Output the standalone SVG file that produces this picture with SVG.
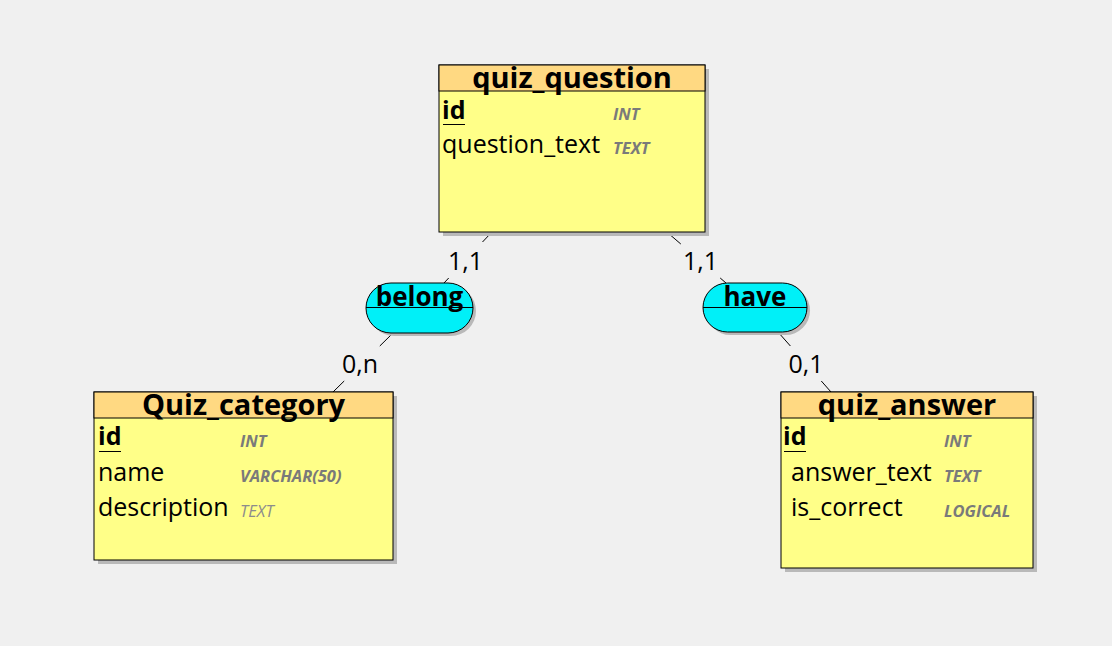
<svg xmlns="http://www.w3.org/2000/svg" width="1112" height="646" viewBox="0 0 1112 646">
<style>
.shadow{fill:#b9b9b9}
.body{fill:#ffff88;stroke:#000;stroke-width:1}
.head{fill:#ffd982;stroke:#000;stroke-width:1}
.title{font-family:"Open Sans","Noto Sans",sans-serif;font-weight:bold;font-size:29px;fill:#000;text-anchor:middle}
.attr{font-family:"Open Sans","Noto Sans",sans-serif;font-size:25px;fill:#000}
.pk{font-weight:bold}
.type{font-family:"Open Sans","Noto Sans",sans-serif;font-size:16.5px;font-style:italic;font-weight:bold;fill:#7a7a7a}
.typel{font-weight:normal;fill:#8c8c8c}
.rel{fill:#00f0f8;stroke:#000;stroke-width:1}
.rtext{font-family:"Open Sans","Noto Sans",sans-serif;font-weight:bold;font-size:26px;fill:#000;text-anchor:middle}
.card{font-family:"Open Sans","Noto Sans",sans-serif;font-size:25px;fill:#000;text-anchor:middle}
.conn{stroke:#000;stroke-width:1;fill:none}
.ul{stroke:#000;stroke-width:1}
</style>
<rect width="1112" height="646" fill="#f0f0f0"/>
<g id="connectors">
<path class="conn" d="M491,233 L482.5,242 M448.7,278 L444,283"/>
<path class="conn" d="M393,333 L379.8,346 M344.2,381 L333,392"/>
<path class="conn" d="M668,233 L680.8,244 M720.2,278 L726,283"/>
<path class="conn" d="M778,332 L790.4,346 M821.3,381 L831,392"/>
<text class="card" x="465.5" y="270">1,1</text>
<text class="card" x="360" y="373">0,n</text>
<text class="card" x="700.5" y="270">1,1</text>
<text class="card" x="806" y="373">0,1</text>
</g>
<g id="quiz_question">
<rect class="shadow" x="443" y="69" width="266" height="167"/>
<rect class="body" x="439" y="65" width="266" height="167"/>
<rect class="head" x="439" y="65" width="266" height="26"/>
<text class="title" x="572" y="88">quiz_question</text>
<text class="attr pk" x="442" y="119">id</text>
<line class="ul" x1="443" y1="124.5" x2="465" y2="124.5"/>
<text class="type" x="613" y="120">INT</text>
<text class="attr" x="442" y="153">question_text</text>
<text class="type" x="613" y="154">TEXT</text>
</g>
<g id="belong">
<rect class="shadow" x="369" y="286" width="107" height="50" rx="25"/>
<rect class="rel" x="366" y="283" width="107" height="50" rx="25"/>
<line class="ul" x1="366" y1="307.5" x2="473" y2="307.5"/>
<text class="rtext" x="419.5" y="306">belong</text>
</g>
<g id="have">
<rect class="shadow" x="706" y="286" width="104" height="49" rx="24.5"/>
<rect class="rel" x="703" y="283" width="104" height="49" rx="24.5"/>
<line class="ul" x1="703" y1="307.5" x2="807" y2="307.5"/>
<text class="rtext" x="755" y="306">have</text>
</g>
<g id="Quiz_category">
<rect class="shadow" x="98" y="396" width="299" height="168"/>
<rect class="body" x="94" y="392" width="299" height="168"/>
<rect class="head" x="94" y="392" width="299" height="26"/>
<text class="title" x="243.5" y="414.5">Quiz_category</text>
<text class="attr pk" x="98" y="445">id</text>
<line class="ul" x1="99" y1="451.5" x2="121" y2="451.5"/>
<text class="type" x="240" y="446.5">INT</text>
<text class="attr" x="98" y="480.5">name</text>
<text class="type" x="240" y="482">VARCHAR(50)</text>
<text class="attr" x="98" y="515.5">description</text>
<text class="type typel" x="240" y="517">TEXT</text>
</g>
<g id="quiz_answer">
<rect class="shadow" x="785" y="396" width="252" height="176"/>
<rect class="body" x="781" y="392" width="252" height="176"/>
<rect class="head" x="781" y="392" width="252" height="26"/>
<text class="title" x="907" y="414.5">quiz_answer</text>
<text class="attr pk" x="783" y="445">id</text>
<line class="ul" x1="784" y1="451.5" x2="806" y2="451.5"/>
<text class="type" x="944" y="446.5">INT</text>
<text class="attr" x="791" y="480.5">answer_text</text>
<text class="type" x="944" y="482">TEXT</text>
<text class="attr" x="791" y="515.5">is_correct</text>
<text class="type" x="944" y="517">LOGICAL</text>
</g>
</svg>
